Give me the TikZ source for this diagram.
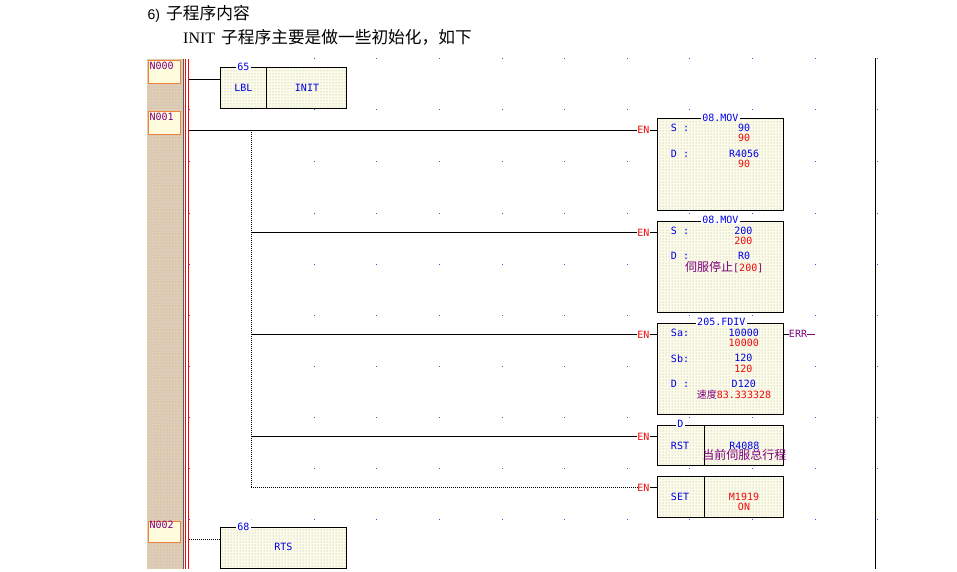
\documentclass[tikz,border=0pt]{standalone}
\usepackage{fontspec}
\usetikzlibrary{patterns}
\setmainfont{Liberation Serif}
\newfontfamily\cjk{Noto Sans CJK SC}
\newfontfamily\ladder{DejaVu Sans Mono}
\newfontfamily\headsans{Liberation Sans}
\definecolor{lblue}{RGB}{0,0,230}
\definecolor{lred}{RGB}{240,10,10}
\definecolor{lpurple}{RGB}{125,0,125}
\definecolor{boxfill}{RGB}{252,252,232}
\definecolor{gutterfill}{RGB}{218,200,182}
\definecolor{lgrey}{RGB}{90,90,90}
\definecolor{tagfill}{RGB}{255,252,222}
\definecolor{tagedge}{RGB}{245,130,60}
\tikzset{
  x=1pt,y=-1pt,
  lad/.style={font=\ladder\fontsize{10}{11}\selectfont,inner sep=0pt},
  bl/.style={lad,text=lblue},
  rd/.style={lad,text=lred},
  pu/.style={lad,text=lpurple},
  fbpat/.style={pattern=dots,pattern color=black!35},
  rung/.style={draw=black,line width=1pt},
  grung/.style={draw=black,line width=1pt,dash pattern=on 1pt off 1pt},
  nopbox/.style={draw=tagedge,line width=0.9pt,fill=tagfill,minimum width=32.6pt,inner sep=0pt},
  titlebg/.style={fill=white,inner xsep=1.5pt,inner ysep=0pt}
}
\begin{document}
\begin{tikzpicture}
\useasboundingbox (0,0) rectangle (957,572);
\fill[white] (0,0) rectangle (957,572);
% grid dots
\foreach \gx in {314.2,376.8,439.4,502,564.6,627.2,689.8,752.4,815,877.6}
  \foreach \gy in {59,110,162,213,264,315,366,417,468,519}
    \fill[lblue!70] (\gx-0.5,\gy-0.5) rectangle (\gx+0.5,\gy+0.5);
\foreach \gy in {110,162,213,264,315,366,417,468,519}
  \fill[lblue!25] (251,\gy-0.5) rectangle (252,\gy+0.5);
\foreach \gy in {110,162,213,264,315,366,417,468,519}
  \fill[lblue!70] (189,\gy-0.5) rectangle (190,\gy+0.5);
% gutter
\fill[gutterfill] (147,59) rectangle (183,569);
\fill[pattern=dots,pattern color=yellow!40] (147,59) rectangle (183,569);
\draw[lgrey,line width=0.8pt] (183,59) -- (183,569);
\draw[lred,line width=1.1pt] (185.7,59) -- (185.7,569);
\draw[lred,line width=1.1pt] (188.6,59) -- (188.6,569);
\draw[black,line width=1.1pt] (875.7,58) -- (875.7,569);
% heading
\node[anchor=base west,inner sep=0pt,font=\headsans\fontsize{14}{16}\selectfont] (headnum) at (147.5,19.3) {6)};
\node[anchor=base west,inner sep=0pt,font=\cjk\fontsize{16.7}{18}\selectfont] (head) at (166,19.3) {子程序内容};
\node[anchor=base west,inner sep=0pt,font=\fontsize{16}{18}\selectfont] (subinit) at (183,43.6) {INIT};
\node[anchor=base west,inner sep=0pt,font=\cjk\fontsize{16.7}{18}\selectfont] (sub) at (221,43.3) {子程序主要是做一些初始化，如下};
% network tags
\node[nopbox,anchor=north west,minimum height=22.7pt] (n0) at (147.7,60) {};
\node[pu,anchor=west] (n0t) at (149.3,65.7) {N000};
\node[nopbox,anchor=north west,minimum height=22.4pt] (n1) at (147.7,111.3) {};
\node[pu,anchor=west] (n1t) at (149.3,116.7) {N001};
\node[nopbox,anchor=north west,minimum height=21.3pt] (n2) at (147.7,520.7) {};
\node[pu,anchor=west] (n2t) at (149.3,525.3) {N002};
% coordinates
\coordinate (busA) at (189,79.3);
\coordinate (busB) at (189,130.3);
\coordinate (busC) at (189,539.3);
\coordinate (tap) at (251,130.3);
\coordinate (tapB) at (251,232.5);
\coordinate (tapC) at (251,334.5);
\coordinate (tapD) at (251,436.5);
\coordinate (tapE) at (251,487.7);
% boxes
\foreach \ya/\yb in {67.7/108.3,527.5/568.5}{
  \path[fill=boxfill] (220.7,\ya) rectangle (346.3,\yb);
  \path[fbpat] (220.7,\ya) rectangle (346.3,\yb);
  \draw[black,line width=1pt] (220.7,\ya) rectangle (346.3,\yb);
}
\foreach \ya/\yb in {118.7/210,221.7/312,323.3/414,425.3/465.3,476.7/517}{
  \path[fill=boxfill] (657.7,\ya) rectangle (783.3,\yb);
  \path[fbpat] (657.7,\ya) rectangle (783.3,\yb);
  \draw[black,line width=1pt] (657.7,\ya) rectangle (783.3,\yb);
}
\draw[black,line width=1pt] (266.7,67.7) -- (266.7,108.3);
\draw[black,line width=1pt] (704.3,425.3) -- (704.3,465.3);
\draw[black,line width=1pt] (704.3,476.7) -- (704.3,517);
% EN labels
\foreach \n/\y in {1/130.3,2/232.5,3/334.5,4/436.5,5/487.7}{
  \node[rd] (en\n) at (643.3,\y) {EN};
  \draw[black,line width=1pt] (en\n.east) ++(0.5,0) -- (657.7,\y);
}
% rungs
\draw[rung] (busA) -- (220.7,79.3);
\draw[rung] (busB) -- (en1.west);
\draw[grung] (tap) -- (tapE);
\draw[rung] (tapB) -- (en2.west);
\draw[rung] (tapC) -- (en3.west);
\draw[rung] (tapD) -- (en4.west);
\draw[grung] (tapE) -- (en5.west);
\draw[grung] (busC) -- (220.7,539.3);
% box titles
\node[bl,titlebg] (t1) at (243.3,66.7) {65};
\node[bl,titlebg] (t2) at (243.3,526.7) {68};
\node[bl,titlebg] (t3) at (720.3,117.7) {08.MOV};
\node[bl,titlebg] (t4) at (720.3,220) {08.MOV};
\node[bl,titlebg] (t5) at (721.3,322.3) {205.FDIV};
\node[bl,titlebg] (t6) at (680.3,424) {D};
% LBL / RTS
\node[bl] (a1) at (243.3,87.7) {LBL};
\node[bl] (a2) at (307,87.7) {INIT};
\node[bl] (g1) at (283.3,547.3) {RTS};
% MOV 1
\node[bl] (b1) at (680,128.3) {S :};
\node[bl,anchor=east] (b2) at (750.3,128.3) {90};
\node[rd,anchor=east] (b3) at (750.3,138.3) {90};
\node[bl] (b4) at (680,153.7) {D :};
\node[bl,anchor=east] (b5) at (759.3,153.7) {R4056};
\node[rd,anchor=east] (b6) at (750.3,164.3) {90};
% MOV 2
\node[bl] (c1) at (680,230.5) {S :};
\node[bl,anchor=east] (c2) at (752.7,230.5) {200};
\node[rd,anchor=east] (c3) at (752.7,240.5) {200};
\node[bl] (c4) at (680,255.7) {D :};
\node[bl,anchor=east] (c5) at (750.3,255.7) {R0};
\node[pu,anchor=west] (c6) at (685,267.3) {{\cjk\fontsize{12}{12}\selectfont 伺服停止}[{\color{lred}200}]};
% FDIV
\node[bl] (d1) at (680,332.7) {Sa:};
\node[bl,anchor=east] (d2) at (759,332.7) {10000};
\node[rd,anchor=east] (d3) at (759,343) {10000};
\node[bl] (d4) at (680,358.3) {Sb:};
\node[bl,anchor=east] (d5) at (752.7,358.3) {120};
\node[rd,anchor=east] (d6) at (752.7,368.7) {120};
\node[bl] (d7) at (680,383.7) {D :};
\node[bl,anchor=east] (d8) at (756,383.7) {D120};
\node[pu,anchor=west] (d9) at (696.7,394.3) {{\cjk\fontsize{10}{10}\selectfont 速度}{\color{lred}83.333328}};
\node[pu] (err) at (798,334.3) {ERR};
\draw[black,line width=1pt] (783.3,334.3) -- (err.west);
\draw[lpurple,line width=1pt] (err.east) -- (815,334.3);
% RST
\node[bl] (e1) at (680,445.7) {RST};
\node[bl] (e2) at (744.3,445.7) {R4088};
\node[pu] (e3) at (744.3,455.2) {\cjk\fontsize{12}{12}\selectfont 当前伺服总行程};
% SET
\node[bl] (f1) at (680,496.7) {SET};
\node[rd] (f2) at (744,496.7) {M1919};
\node[rd] (f3) at (744,506.7) {ON};
\end{tikzpicture}
\end{document}
